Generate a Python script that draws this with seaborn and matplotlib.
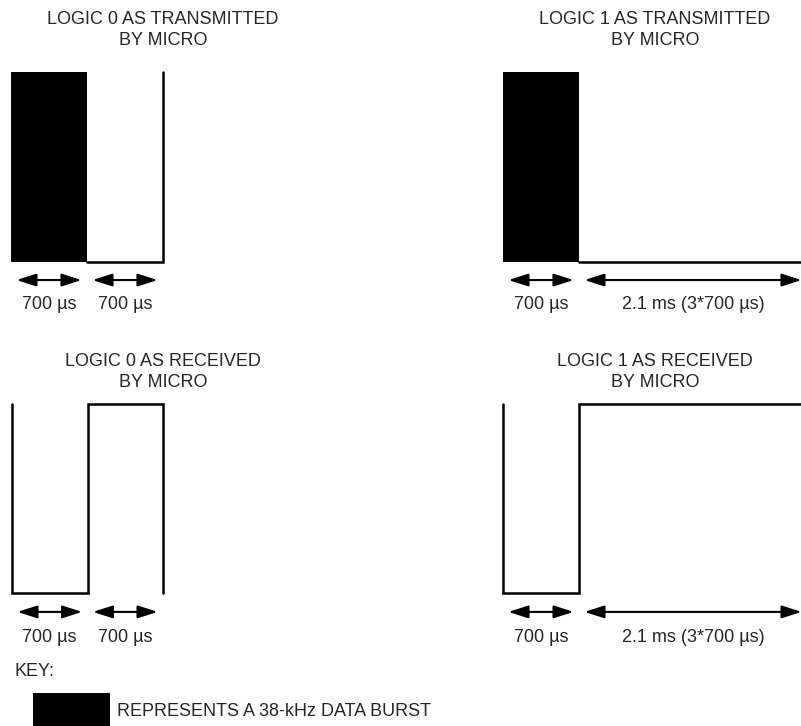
import numpy as np
import pandas as pd
import matplotlib.pyplot as plt
import matplotlib.patches as mpatches
import seaborn as sns

# Bit timing, all in microseconds
burst_span = [0, 700]

# Transmitted by micro: 38-kHz burst (filled) then idle outline
tx0_time = [700, 1400, 1400]
tx0_level = [0, 0, 1]
tx1_time = [700, 2800]
tx1_level = [0, 0]

# Received by micro: output is low while the burst is present
rx0_time = [0, 0, 700, 700, 1400, 1400]
rx0_level = [1, 0, 0, 1, 1, 0]
rx1_time = [0, 0, 700, 700, 2800]
rx1_level = [1, 0, 0, 1, 1]

# Duration arrows under each waveform
logic0_spans = [(0, 700), (700, 1400)]
logic1_spans = [(0, 700), (700, 2800)]
logic0_labels = ["700 \u00b5s", "700 \u00b5s"]
logic1_labels = ["700 \u00b5s", "2.1 ms (3*700 \u00b5s)"]

titles = ["LOGIC 0 AS TRANSMITTED\nBY MICRO", "LOGIC 1 AS TRANSMITTED\nBY MICRO",
          "LOGIC 0 AS RECEIVED\nBY MICRO", "LOGIC 1 AS RECEIVED\nBY MICRO"]
key_label = "REPRESENTS A 38-kHz DATA BURST"

sns.set_theme(style="white")
plt.rcParams["font.family"] = ["Liberation Sans", "DejaVu Sans"]
FS = 13
LW = 1.8


def draw_panel(ax, time, level, spans, labels, title, tmax, burst=False,
               title_y=1.22, arrow_y=-0.095, label_y=-0.21):
    """Draw one waveform panel in microsecond/level units."""
    if burst:
        ax.fill_between(burst_span, 0, 1, color="black", lw=0)
    df = pd.DataFrame({"t": time, "level": level})
    sns.lineplot(data=df, x="t", y="level", sort=False, estimator=None,
                 color="black", lw=LW, ax=ax)
    for line in ax.lines:
        line.set_clip_on(False)
        line.set_solid_joinstyle("miter")

    # duration arrows and labels
    inset = 50
    for (a, b), lab in zip(spans, labels):
        ax.annotate("", xy=(a + inset, arrow_y), xytext=(b - inset, arrow_y),
                    xycoords="data", annotation_clip=False,
                    arrowprops=dict(arrowstyle="<|-|>,head_length=1.0,head_width=0.32",
                                    mutation_scale=12, lw=1.5, color="black",
                                    shrinkA=0, shrinkB=0))
        ax.text((a + b) / 2, label_y, lab, ha="center", va="center",
                fontsize=FS, clip_on=False)

    ax.text(1400, title_y, title, ha="center", va="center", fontsize=FS,
            linespacing=1.3, clip_on=False)
    ax.set_xlim(0, tmax)
    ax.set_ylim(0, 1)
    ax.set_axis_off()


W, H = 801, 726
fig = plt.figure(figsize=(W / 100, H / 100), dpi=100)

ax_tx0 = fig.add_axes([11 / W, 464 / H, 152 / W, 190 / H])
ax_tx1 = fig.add_axes([503 / W, 464 / H, 304 / W, 190 / H])
ax_rx0 = fig.add_axes([12 / W, 133 / H, 151 / W, 189 / H])
ax_rx1 = fig.add_axes([503 / W, 133 / H, 304 / W, 189 / H])

draw_panel(ax_tx0, tx0_time, tx0_level, logic0_spans, logic0_labels, titles[0], 1400,
           burst=True, label_y=-0.225)
draw_panel(ax_tx1, tx1_time, tx1_level, logic1_spans, logic1_labels, titles[1], 2800,
           burst=True, label_y=-0.225)
draw_panel(ax_rx0, rx0_time, rx0_level, logic0_spans, logic0_labels, titles[2], 1400,
           title_y=1.17, arrow_y=-0.10, label_y=-0.235)
draw_panel(ax_rx1, rx1_time, rx1_level, logic1_spans, logic1_labels, titles[3], 2800,
           title_y=1.17, arrow_y=-0.10, label_y=-0.235)

# Key
fig.text(15 / W, 1 - 672 / H, "KEY:", ha="left", va="center", fontsize=FS)
fig.add_artist(mpatches.Rectangle((33 / W, 0), 77 / W, 33 / H,
                                  transform=fig.transFigure, color="black", lw=0))
fig.text(117 / W, 1 - 712 / H, key_label, ha="left", va="center", fontsize=FS)

fig.savefig("out.png", dpi=100)
